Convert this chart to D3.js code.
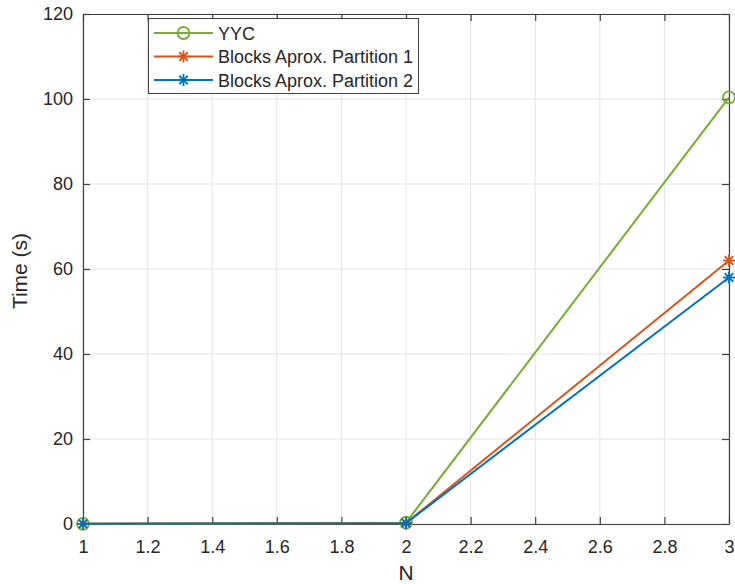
<!DOCTYPE html>
<html>
<head>
<meta charset="utf-8">
<script src="https://cdn.jsdelivr.net/npm/d3@7"></script>
<style>
body { margin: 0; background: #fff; }
text { font-family: "Liberation Sans", Arial, sans-serif; }
</style>
</head>
<body>
<svg id="mainSVG" width="735" height="584"></svg>
<script>
// data
var nValues = [1, 2, 3];
var yycTimes = [0.05, 0.3, 100.4];
var part1Times = [0.03, 0.2, 62];
var part2Times = [0.03, 0.2, 58];
var seriesNames = ["YYC", "Blocks Aprox. Partition 1", "Blocks Aprox. Partition 2"];
var seriesColors = ["#77AC30", "#D95319", "#0072BD"];
var seriesMarkers = ["circle", "star", "star"];
var xTicks = [1, 1.2, 1.4, 1.6, 1.8, 2, 2.2, 2.4, 2.6, 2.8, 3];
var yTicks = [0, 20, 40, 60, 80, 100, 120];

var svg = d3.select("#mainSVG");
var plotLeft = 83, plotRight = 729, plotTop = 14, plotBottom = 524;

var x = d3.scaleLinear().domain([1, 3]).range([plotLeft, plotRight]);
var y = d3.scaleLinear().domain([0, 120]).range([plotBottom, plotTop]);

// grid
svg.append("g").selectAll("line").data(xTicks).enter().append("line")
  .attr("x1", function(d) { return x(d); }).attr("x2", function(d) { return x(d); })
  .attr("y1", plotTop).attr("y2", plotBottom)
  .attr("stroke", "#e3e3e3").attr("stroke-width", 1);
svg.append("g").selectAll("line").data(yTicks).enter().append("line")
  .attr("y1", function(d) { return y(d); }).attr("y2", function(d) { return y(d); })
  .attr("x1", plotLeft).attr("x2", plotRight)
  .attr("stroke", "#e3e3e3").attr("stroke-width", 1);

// axes with inward ticks
var axisColor = "#404040";
var xAxis = svg.append("g").attr("transform", "translate(0," + plotBottom + ")")
  .call(d3.axisBottom(x).tickValues(xTicks).tickSize(-7).tickPadding(16).tickSizeOuter(0).tickFormat(d3.format("")));
var xTop = svg.append("g").attr("transform", "translate(0," + plotTop + ")")
  .call(d3.axisTop(x).tickValues(xTicks).tickSize(-7).tickSizeOuter(0).tickFormat(""));
var yAxis = svg.append("g").attr("transform", "translate(" + plotLeft + ",0)")
  .call(d3.axisLeft(y).tickValues(yTicks).tickSize(-7).tickSizeOuter(0).tickPadding(10));
var yRight = svg.append("g").attr("transform", "translate(" + plotRight + ",0)")
  .call(d3.axisRight(y).tickValues(yTicks).tickSize(-7).tickSizeOuter(0).tickFormat(""));

[xAxis, xTop, yAxis, yRight].forEach(function(a) {
  a.select(".domain").attr("stroke", axisColor).attr("stroke-width", 1.2);
  a.selectAll(".tick line").attr("stroke", axisColor).attr("stroke-width", 1.2);
  a.selectAll(".tick text").attr("fill", "#262626")
    .style("font-size", "18px")
    .style("font-family", "Liberation Sans, Arial, sans-serif");
});

// axis titles
svg.append("text").attr("x", (plotLeft + plotRight) / 2).attr("y", 580)
  .attr("text-anchor", "middle").style("font-size", "21px").attr("fill", "#262626").text("N");
svg.append("text").attr("transform", "translate(27,271) rotate(-90)")
  .attr("text-anchor", "middle").style("font-size", "21px").attr("fill", "#262626").text("Time (s)");

var allSeries = [yycTimes, part1Times, part2Times];

function drawMarker(g, type, cx, cy, color) {
  if (type == "circle") {
    g.append("circle").attr("cx", cx).attr("cy", cy).attr("r", 6)
      .attr("fill", "none").attr("stroke", color).attr("stroke-width", 1.8);
  } else {
    var r = 6;
    [0, 45, 90, 135].forEach(function(a) {
      var rad = a * Math.PI / 180;
      g.append("line")
        .attr("x1", cx - r * Math.cos(rad)).attr("y1", cy - r * Math.sin(rad))
        .attr("x2", cx + r * Math.cos(rad)).attr("y2", cy + r * Math.sin(rad))
        .attr("stroke", color).attr("stroke-width", 1.8);
    });
  }
}

var line = d3.line()
  .x(function(d, i) { return x(nValues[i]); })
  .y(function(d) { return y(d); });

var plotG = svg.append("g");
allSeries.forEach(function(s, k) {
  plotG.append("path").datum(s).attr("d", line)
    .attr("fill", "none").attr("stroke", seriesColors[k]).attr("stroke-width", 2);
  s.forEach(function(v, i) {
    drawMarker(plotG, seriesMarkers[k], x(nValues[i]), y(v), seriesColors[k]);
  });
});

// legend
var legG = svg.append("g");
legG.append("rect").attr("x", 148.5).attr("y", 18.5).attr("width", 270).attr("height", 75)
  .attr("fill", "#fff").attr("stroke", axisColor).attr("stroke-width", 1);
seriesNames.forEach(function(name, k) {
  var ly = 33 + k * 23.5;
  legG.append("line").attr("x1", 154).attr("x2", 213).attr("y1", ly).attr("y2", ly)
    .attr("stroke", seriesColors[k]).attr("stroke-width", 2);
  drawMarker(legG, seriesMarkers[k], 183.5, ly, seriesColors[k]);
  legG.append("text").attr("x", 218).attr("y", ly + 6.5).style("font-size", "18px")
    .attr("fill", "#262626").text(name);
});
</script>
</body>
</html>
